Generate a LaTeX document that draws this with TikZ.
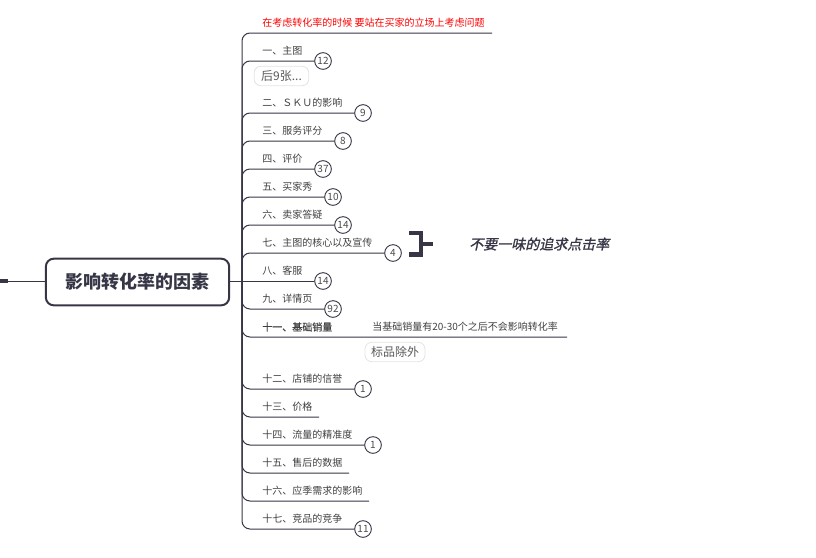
\documentclass[tikz,border=0pt]{standalone}
\usepackage{fontspec}
\setmainfont{Noto Sans CJK SC}
\newfontfamily\slantfont[FakeSlant=0.22,FakeBold=1.2]{Noto Sans CJK SC}
\newfontfamily\labelbold[FakeBold=0.6]{Noto Sans CJK SC}
\definecolor{ink}{HTML}{363646}
\definecolor{tagline}{HTML}{E4E4E4}
\definecolor{tagtext}{HTML}{5A5A5A}
\tikzset{
  rootbox/.style={draw=ink,line width=1.5pt,rounded corners=6pt,minimum width=137.5pt,minimum height=35pt,inner sep=0pt,fill=white,text=ink,font=\fontsize{13.5pt}{15pt}\selectfont\bfseries},
  branch/.style={draw=ink,line width=0.75pt,rounded corners=6pt},
  lbl/.style={anchor=west,inner sep=0pt,text=black!75,font=\fontsize{7.5pt}{9pt}\selectfont},
  badge/.style={circle,draw=ink,line width=0.7pt,fill=white,minimum size=12.5pt,inner sep=0pt,text=black!70,font=\fontsize{7.5pt}{9pt}\selectfont},
  tagbox/.style={draw=tagline,line width=0.6pt,rounded corners=5pt,fill=white,inner sep=0pt,text=tagtext,font=\fontsize{9pt}{11pt}\selectfont},
  bracket/.style={draw=ink,line width=3.2pt}
}
\begin{document}
\begin{tikzpicture}[x=0.75pt,y=-0.75pt]
\useasboundingbox (0,0) rectangle (816,557);
\node[rootbox] (root) at (137.5,282) {影响转化率的因素};
\coordinate (hub) at (242,281);
\coordinate (leftend) at (0,281);
\coordinate (stubend) at (8,281);
\draw[ink,line width=0.7pt] (leftend) -- (root.west |- leftend);
\draw[ink,line width=2.6pt] (leftend) -- (stubend);
\draw[branch] (root.east |- hub) -- (hub);
% branch ends
\coordinate (e0) at (492,33);
\node[badge] (b1) at (323,61) {12};
\node[badge] (b2) at (363,113) {9};
\node[badge] (b3) at (343,141) {8};
\node[badge] (b4) at (323,169) {37};
\node[badge] (b5) at (333,197) {10};
\node[badge] (b6) at (343,225) {14};
\node[badge] (b7) at (393,253) {4};
\node[badge] (b8) at (323,281) {14};
\node[badge] (b9) at (333,309) {92};
\coordinate (e10) at (567,337);
\node[badge] (b11) at (363,389) {1};
\coordinate (e12) at (319,417);
\node[badge] (b13) at (373,445) {1};
\coordinate (e14) at (349,473);
\coordinate (e15) at (369,501);
\node[badge] (b16) at (363,529) {11};
\foreach \t in {e0,b1,b2,b3,b4,b5,b6,b7,b9,e10,b11,e12,b13,e14,e15,b16}
  \draw[branch] (hub) |- (\t);
\draw[branch] (hub) -- (b8);
% labels
\node[lbl,text=red] (t0) at (262,23) {在考虑转化率的时候 要站在买家的立场上考虑问题};
\node[lbl] (t1) at (262,51) {一、主图};
\node[lbl] (t2) at (262,103) {二、ＳＫＵ的影响};
\node[lbl] (t3) at (262,131) {三、服务评分};
\node[lbl] (t4) at (262,159) {四、评价};
\node[lbl] (t5) at (262,187) {五、买家秀};
\node[lbl] (t6) at (262,215) {六、卖家答疑};
\node[lbl] (t7) at (262,243) {七、主图的核心以及宣传};
\node[lbl] (t8) at (262,271) {八、客服};
\node[lbl] (t9) at (262,299) {九、详情页};
\node[lbl,font=\fontsize{7.5pt}{9pt}\labelbold] (t10) at (262,327) {十一、基础销量};
\node[lbl] (t10b) at (372,327) {当基础销量有20-30个之后不会影响转化率};
\node[lbl] (t11) at (262,379) {十二、店铺的信誉};
\node[lbl] (t12) at (262,407) {十三、价格};
\node[lbl] (t13) at (262,435) {十四、流量的精准度};
\node[lbl] (t14) at (262,463) {十五、售后的数据};
\node[lbl] (t15) at (262,491) {十六、应季需求的影响};
\node[lbl] (t16) at (262,519) {十七、竞品的竞争};
% tags
\node[tagbox,minimum width=41pt,minimum height=14.5pt] (tag1) at (281.5,76) {后9张...};
\node[tagbox,minimum width=45pt,minimum height=14.5pt] (tag2) at (395,352) {标品除外};
% summary bracket
\coordinate (bt) at (409,233);
\coordinate (bb) at (409,254.5);
\coordinate (bm) at (421,244);
\coordinate (bs) at (433,244);
\draw[bracket,line join=miter] (bt) -| (bm) |- (bb);
\draw[bracket] (bm) -- (bs);
\node[anchor=west,inner sep=0pt,text=ink,font=\fontsize{10.5pt}{12pt}\slantfont] (note) at (469,244) {不要一味的追求点击率};
\end{tikzpicture}
\end{document}
